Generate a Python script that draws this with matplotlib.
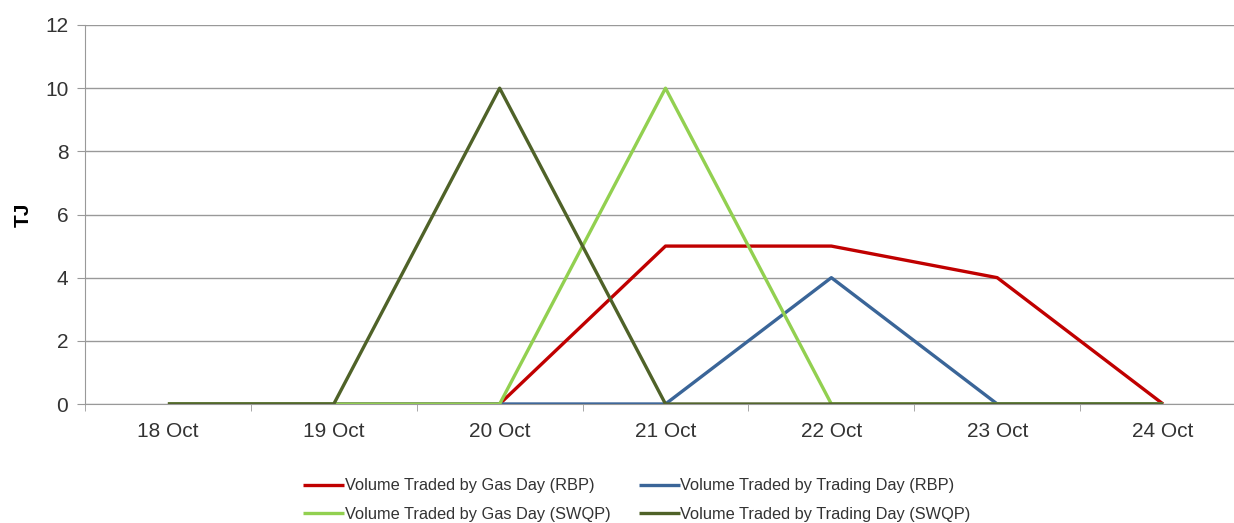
import matplotlib
matplotlib.use("Agg")
import matplotlib.pyplot as plt

plt.rcParams['font.family'] = ['Liberation Sans', 'DejaVu Sans']

days = ["18 Oct", "19 Oct", "20 Oct", "21 Oct", "22 Oct", "23 Oct", "24 Oct"]
gas_rbp = [0, 0, 0, 5, 5, 4, 0]
trade_rbp = [0, 0, 0, 0, 4, 0, 0]
gas_swqp = [0, 0, 0, 10, 0, 0, 0]
trade_swqp = [0, 0, 10, 0, 0, 0, 0]

names = ["Volume Traded by Gas Day (RBP)", "Volume Traded by Trading Day (RBP)",
         "Volume Traded by Gas Day (SWQP)", "Volume Traded by Trading Day (SWQP)"]
colors = ["#C00000", "#3A6598", "#92D050", "#4F6228"]

fig = plt.figure(figsize=(12.34, 5.23), dpi=100)
ax = fig.add_axes([85/1234, 1-404/523, 1161/1234, 379/523])

x = list(range(len(days)))
lines = []
for vals, name, c in zip([gas_rbp, trade_rbp, gas_swqp, trade_swqp], names, colors):
    ln, = ax.plot(x, vals, color=c, lw=2.4, label=name, solid_capstyle='butt')
    lines.append(ln)

ax.set_xlim(-0.5, len(days) - 0.5)
ax.set_ylim(0, 12)
ax.set_yticks(range(0, 13, 2))
ax.set_xticks(x)
ax.set_xticklabels(days)
ax.set_xticks([i - 0.5 for i in range(len(days) + 1)], minor=True)
ax.tick_params(axis='x', which='major', length=0, pad=13, labelsize=15, labelcolor='#333333')
ax.tick_params(axis='x', which='minor', length=5, color='#999999')
ax.tick_params(axis='y', length=6, color='#999999', labelsize=15, labelcolor='#333333', pad=6)
ax.grid(axis='y', color='#999999', lw=1)
ax.set_axisbelow(True)
for s in ['top', 'right']:
    ax.spines[s].set_visible(False)
ax.spines['left'].set_color('#999999')
ax.spines['bottom'].set_color('#999999')
ax.set_ylabel("TJ", fontsize=15, fontweight='bold', labelpad=9)

# matplotlib fills legend column-wise, so reorder to get row-wise layout
order = [0, 2, 1, 3]
leg = fig.legend([lines[i] for i in order], [names[i] for i in order],
                 loc='center', bbox_to_anchor=(637/1234, 1-500/523), ncol=2,
                 frameon=False, fontsize=11.8, handlelength=2.5, handletextpad=0.05,
                 columnspacing=1.7, labelspacing=0.8)
for t in leg.get_texts():
    t.set_color('#333333')

fig.savefig("out.png", dpi=100)
